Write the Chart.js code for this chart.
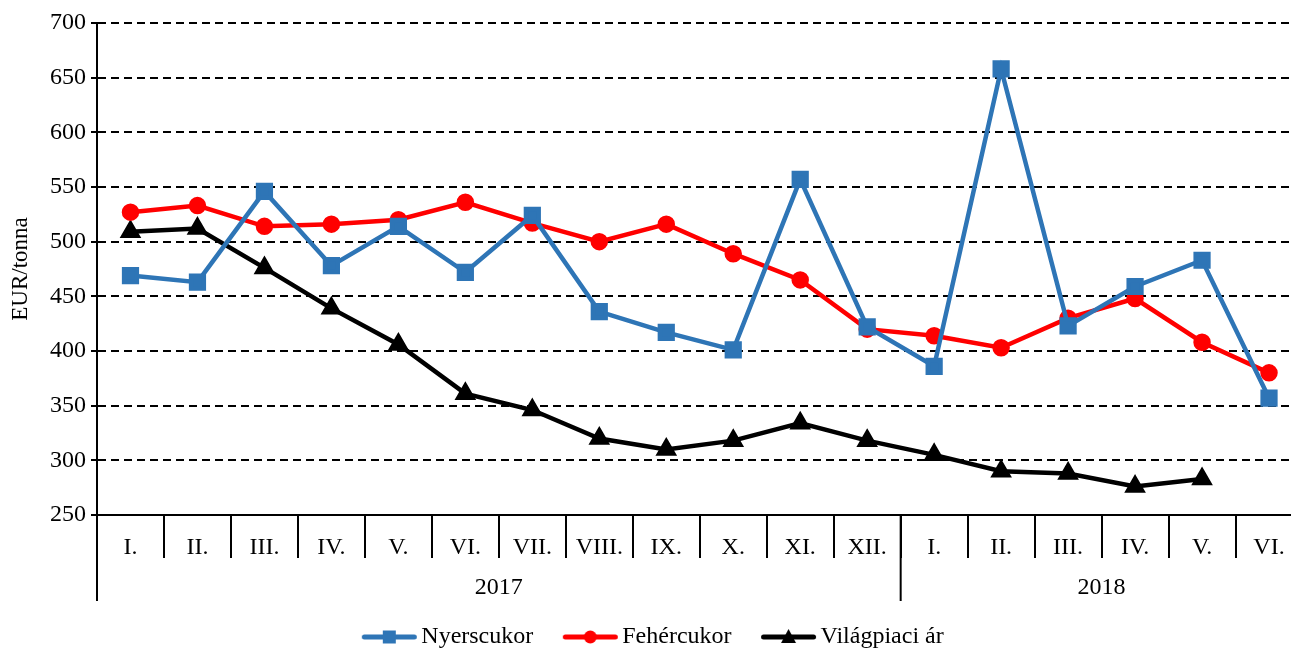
<!DOCTYPE html>
<html>
<head>
<meta charset="utf-8">
<script src="https://cdn.jsdelivr.net/npm/chart.js@4.4.1/dist/chart.umd.min.js"></script>
<style>
  html, body { margin: 0; padding: 0; background: #fff; overflow: hidden; }
  #wrap { width: 1316px; height: 648px; }
</style>
</head>
<body>
<div id="wrap"><canvas id="c"></canvas></div>
<script>
// adatok
const months = ['I.', 'II.', 'III.', 'IV.', 'V.', 'VI.', 'VII.', 'VIII.', 'IX.', 'X.', 'XI.', 'XII.',
                'I.', 'II.', 'III.', 'IV.', 'V.', 'VI.'];
const years = ['2017', '2018'];
const yearSpans = [12, 6];
const nyerscukor = [469, 463, 546, 478, 514, 472, 524, 436, 417, 401, 557, 422, 386, 658, 423, 459, 483, 357];
const fehercukor = [527, 533, 514, 516, 520, 536, 517, 500, 516, 489, 465, 420, 414, 403, 430, 448, 408, 380];
const vilagpiaci = [509, 512, 476, 439, 406, 361, 346, 320, 310, 318, 334, 318, 305, 290, 288, 276, 283, null];
const yTicks = [250, 300, 350, 400, 450, 500, 550, 600, 650, 700];

const FONT = "'Liberation Serif', 'Times New Roman', serif";
const BLUE = '#2E75B6';
const RED = '#FF0000';
const BLACK = '#000000';

// jelmagyarazat ikon: vonal + jelolo (a vaszon bal oldala ures -> tavolsag az elemek kozott)
function legendIcon(color, shape) {
    const cv = document.createElement('canvas');
    cv.width = 96; cv.height = 18;
    const g = cv.getContext('2d');
    const x0 = 39.5, x1 = 93.5, cx = (x0 + x1) / 2, cy = 9;
    g.strokeStyle = color; g.fillStyle = color; g.lineWidth = 5; g.lineCap = 'round';
    g.beginPath(); g.moveTo(x0 + 2, cy); g.lineTo(x1 - 2, cy); g.stroke();
    g.beginPath();
    if (shape === 'rect') g.rect(cx - 6.5, cy - 6.5, 13, 13);
    else if (shape === 'circle') g.arc(cx, cy, 6.5, 0, Math.PI * 2);
    else { g.moveTo(cx, cy - 8); g.lineTo(cx + 7.5, cy + 6); g.lineTo(cx - 7.5, cy + 6); g.closePath(); }
    g.fill();
    return cv;
}

// also tengely: evek es elvalasztok
const yearAxis = {
    id: 'yearAxis',
    afterLayout(chart) {
        // jelmagyarazat kicsit balra
        chart.legend.left -= 20;
        chart.legend.right -= 20;
    },
    afterDraw(chart) {
        const x = chart.scales.x, ctx = chart.ctx;
        const top = chart.chartArea.bottom;
        const step = x.getPixelForValue(1) - x.getPixelForValue(0);
        ctx.save();
        ctx.strokeStyle = BLACK; ctx.lineWidth = 2;
        ctx.fillStyle = BLACK;
        ctx.font = '24px ' + FONT;
        ctx.textAlign = 'center'; ctx.textBaseline = 'middle';
        let start = 0;
        years.forEach((yr, i) => {
            const left = x.getPixelForValue(start) - step / 2;
            const right = x.getPixelForValue(start + yearSpans[i] - 1) + step / 2;
            ctx.beginPath(); ctx.moveTo(left, top); ctx.lineTo(left, top + 86); ctx.stroke();
            ctx.fillText(yr, (left + right) / 2, top + 73);
            start += yearSpans[i];
        });
        ctx.restore();
    }
};

new Chart(document.getElementById('c'), {
    type: 'line',
    data: {
        labels: months,
        datasets: [
            {
                label: 'Nyerscukor',
                data: nyerscukor,
                borderColor: BLUE, backgroundColor: BLUE,
                borderWidth: 4.5, pointStyle: 'rect', pointRadius: 9,
                legendIcon: legendIcon(BLUE, 'rect')
            },
            {
                label: 'Fehércukor',
                data: fehercukor,
                borderColor: RED, backgroundColor: RED,
                borderWidth: 4.5, pointStyle: 'circle', pointRadius: 6.5,
                legendIcon: legendIcon(RED, 'circle')
            },
            {
                label: 'Világpiaci ár',
                data: vilagpiaci,
                borderColor: BLACK, backgroundColor: BLACK,
                borderWidth: 4.5, pointStyle: 'triangle', pointRadius: 8,
                legendIcon: legendIcon(BLACK, 'triangle')
            }
        ]
    },
    options: {
        responsive: true,
        maintainAspectRatio: false,
        animation: false,
        layout: { padding: { top: 23, right: 0, left: 0, bottom: -11 } },
        elements: { line: { tension: 0 }, point: { borderWidth: 0 } },
        plugins: {
            tooltip: { enabled: false },
            legend: {
                position: 'bottom',
                labels: {
                    usePointStyle: true,
                    pointStyleWidth: 77,
                    padding: 0,
                    color: BLACK,
                    font: { family: FONT, size: 24 },
                    generateLabels(chart) {
                        return chart.data.datasets.map((ds, i) => ({
                            text: ds.label,
                            pointStyle: ds.legendIcon,
                            fillStyle: ds.borderColor,
                            strokeStyle: ds.borderColor,
                            lineWidth: 0,
                            hidden: false,
                            datasetIndex: i
                        }));
                    }
                }
            }
        },
        scales: {
            x: {
                offset: true,
                grid: {
                    offset: true,
                    drawOnChartArea: false,
                    drawTicks: true,
                    tickLength: 43,
                    color: BLACK,
                    lineWidth: 2
                },
                border: { display: true, color: BLACK, width: 2 },
                ticks: {
                    color: BLACK,
                    padding: -25,
                    maxRotation: 0,
                    autoSkip: false,
                    font: { family: FONT, size: 24 }
                },
                afterFit(scale) { scale.height = 110; }
            },
            y: {
                min: 250, max: 700,
                afterBuildTicks(scale) { scale.ticks = yTicks.map(v => ({ value: v })); },
                afterFit(scale) { scale.width = 97; },
                grid: {
                    color: BLACK,
                    lineWidth: 2,
                    tickBorderDash: [],
                    tickLength: 6,
                    tickWidth: 2
                },
                border: { display: true, color: BLACK, width: 2, dash: [8, 5] },
                ticks: {
                    color: BLACK,
                    padding: 5,
                    font: { family: FONT, size: 24 }
                },
                title: {
                    display: true,
                    text: 'EUR/tonna',
                    color: BLACK,
                    padding: 7,
                    font: { family: FONT, size: 23 }
                }
            }
        }
    },
    plugins: [yearAxis]
});
</script>
</body>
</html>
